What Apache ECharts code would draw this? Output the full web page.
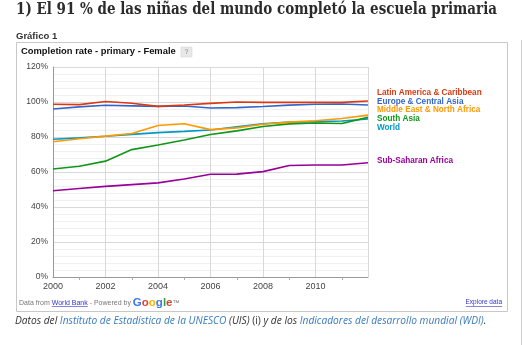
<!DOCTYPE html>
<html>
<head>
<meta charset="utf-8">
<script src="https://cdn.jsdelivr.net/npm/echarts@6/dist/echarts.min.js"></script>
<style>
  html, body { margin: 0; padding: 0; background: #fff; }
  #chart { width: 523px; height: 345px; }
</style>
</head>
<body>
<div id="chart"></div>
<script>
// Years on the x axis
const years = [2000, 2001, 2002, 2003, 2004, 2005, 2006, 2007, 2008, 2009, 2010, 2011, 2012];

// Female primary completion rate (%) by region
const latinAmerica  = [98.7, 98.5, 100.3, 99.3, 97.5, 98.3, 99.2, 100.0, 99.8, 99.8, 99.8, 99.8, 100.6];
const europeCentral = [96.0, 97.2, 98.1, 97.8, 97.5, 97.7, 96.6, 96.8, 97.4, 98.2, 98.7, 98.9, 98.3];
const middleEast    = [77.3, 79.0, 80.5, 82.0, 86.6, 87.6, 84.2, 85.2, 87.3, 88.5, 89.3, 90.6, 92.5];
const southAsia     = [61.7, 63.3, 66.2, 72.8, 75.4, 78.3, 81.4, 83.5, 86.0, 87.5, 88.0, 87.7, 91.2];
const world         = [78.7, 79.5, 80.4, 81.5, 82.5, 83.2, 84.0, 85.8, 87.6, 88.5, 88.8, 89.1, 90.3];
const subSaharan    = [49.3, 50.6, 51.8, 52.8, 53.8, 56.0, 58.7, 58.8, 60.2, 63.7, 64.0, 64.0, 65.3];

const seriesNames = [
  'Latin America & Caribbean',
  'Europe & Central Asia',
  'Middle East & North Africa',
  'South Asia',
  'World',
  'Sub-Saharan Africa'
];
const seriesValues = [latinAmerica, europeCentral, middleEast, southAsia, world, subSaharan];
const seriesColors = ['#dc3912', '#3366cc', '#ff9900', '#109618', '#0099c6', '#990099'];

// Y axis ticks
const yMin = 0, yMax = 120, yStep = 20;

// Legend label rows beside the plot
const legendY = [93.5, 102.3, 111, 119.7, 128.3, 161.7];

const chart = echarts.init(document.getElementById('chart'), null, { renderer: 'canvas' });

const sansFont = '"Liberation Sans", Arial, sans-serif';

// Heading is squeezed horizontally to fit the page column
const headingText = '1) El 91 % de las niñas del mundo completó la escuela primaria';
const headingFont = 'bold 17px "DejaVu Serif", "Liberation Serif", serif';
const measureCtx = document.createElement('canvas').getContext('2d');
measureCtx.font = headingFont;
const headingWidth = measureCtx.measureText(headingText).width;
const headingScale = 481 / headingWidth;

// Footer link underline spans, measured from the footer font
const footerFont = '7px ' + sansFont;
measureCtx.font = footerFont;
const linkStart = 19 + measureCtx.measureText('Data from ').width;
const linkEnd = linkStart + measureCtx.measureText('World Bank').width;

const series = seriesNames.map((name, i) => ({
  name,
  type: 'line',
  data: years.map((y, k) => [y, seriesValues[i][k]]),
  showSymbol: false,
  symbol: 'none',
  lineStyle: { width: 1.6, color: seriesColors[i] },
  itemStyle: { color: seriesColors[i] },
  z: 10 - i,
  animation: false
}));

const graphics = [
  // page heading
  {
    type: 'text', x: 16, y: 1, scaleX: headingScale, originX: 0,
    style: { text: headingText, font: headingFont, fill: '#2b2b2b' }
  },
  {
    type: 'text', left: 16, top: 31,
    style: { text: 'Gráfico 1', font: 'bold 9.5px ' + sansFont, fill: '#333' }
  },
  // chart frame
  {
    type: 'rect', shape: { x: 16.5, y: 42.5, width: 491, height: 269 },
    style: { fill: 'none', stroke: '#c8c8c8', lineWidth: 1 }, silent: true
  },
  {
    type: 'text', left: 21, top: 47,
    style: { text: 'Completion rate - primary - Female', font: 'bold 9.4px ' + sansFont, fill: '#111' }
  },
  {
    type: 'rect', shape: { x: 181, y: 47, width: 11, height: 10 },
    style: { fill: '#e8e8e8', stroke: '#d0d0d0', lineWidth: 0.5 }
  },
  {
    type: 'text', left: 184.5, top: 48.5,
    style: { text: '?', font: '7px ' + sansFont, fill: '#888' }
  },
  // footer
  {
    type: 'text', left: 19, top: 297,
    style: {
      text: '{g|Data from }{l|World Bank}{g| - Powered by }{b|G}{r|o}{y|o}{b|g}{gr|l}{r|e}{g|™}',
      rich: {
        g: { font: footerFont, fill: '#777' },
        l: { font: footerFont, fill: '#3333cc' },
        b: { font: 'bold 11.5px ' + sansFont, fill: '#3b77e8' },
        r: { font: 'bold 11.5px ' + sansFont, fill: '#e0402f' },
        y: { font: 'bold 11.5px ' + sansFont, fill: '#f4b400' },
        gr: { font: 'bold 11.5px ' + sansFont, fill: '#2f9e44' }
      }
    }
  },
  {
    type: 'text', right: 21, top: 299,
    style: { text: 'Explore data', font: '6.5px ' + sansFont, fill: '#3333cc' }
  },
  {
    type: 'line', shape: { x1: 466, y1: 306.5, x2: 502, y2: 306.5 },
    style: { stroke: '#3333cc', lineWidth: 0.6 }
  },
  {
    type: 'line', shape: { x1: linkStart, y1: 306.5, x2: linkEnd, y2: 306.5 },
    style: { stroke: '#3333cc', lineWidth: 0.6 }
  },
  // source note below the frame
  {
    type: 'text', left: 15, top: 316,
    style: {
      text: '{d|Datos del }{a|Instituto de Estadística de la UNESCO}{d| (UIS) }{n|(i)}{d| y de los }{a|Indicadores del desarrollo mundial (WDI)}{d|.}',
      rich: {
        d: { font: 'italic 10.2px "Open Sans", ' + sansFont, fill: '#333' },
        a: { font: 'italic 10.2px "Open Sans", ' + sansFont, fill: '#3a7bbf' },
        n: { font: '10.2px "Open Sans", ' + sansFont, fill: '#333' }
      }
    }
  },
  // page edge rule on the right
  {
    type: 'line', shape: { x1: 521.5, y1: 40, x2: 521.5, y2: 345 },
    style: { stroke: '#b7d3f0', lineWidth: 1 }
  }
];

// Region names beside the lines
seriesNames.forEach((name, i) => {
  graphics.push({
    type: 'text', left: 377, top: legendY[i] - 5,
    style: { text: name, font: 'bold 8.2px ' + sansFont, fill: seriesColors[i] }
  });
});

chart.setOption({
  animation: false,
  backgroundColor: '#fff',
  grid: { left: 53, right: 155, top: 67, bottom: 68, containLabel: false },
  xAxis: {
    type: 'value',
    min: years[0],
    max: years[years.length - 1],
    interval: 2,
    axisLine: { show: true, lineStyle: { color: '#999', width: 1 } },
    axisTick: { show: false },
    minorTick: { show: true, splitNumber: 2, length: 3, lineStyle: { color: '#aaa' } },
    splitLine: { show: true, lineStyle: { color: '#d9d9d9', width: 1 } },
    axisLabel: {
      color: '#444', fontSize: 9, fontFamily: sansFont, margin: 5,
      formatter: v => (v % 2 === 0 && v < 2012) ? String(v) : ''
    }
  },
  yAxis: {
    type: 'value',
    min: yMin, max: yMax, interval: yStep,
    axisLine: { show: true, lineStyle: { color: '#999', width: 1 } },
    axisTick: { show: false },
    splitLine: { show: true, lineStyle: { color: '#d9d9d9', width: 1 } },
    minorTick: { show: false },
    minorSplitLine: { show: true, lineStyle: { color: '#f0f0f0', width: 1 } },
    axisLabel: {
      color: '#444', fontSize: 8.5, fontFamily: sansFont, margin: 5,
      formatter: '{value}%'
    }
  },
  series,
  graphic: graphics
});
</script>
</body>
</html>
